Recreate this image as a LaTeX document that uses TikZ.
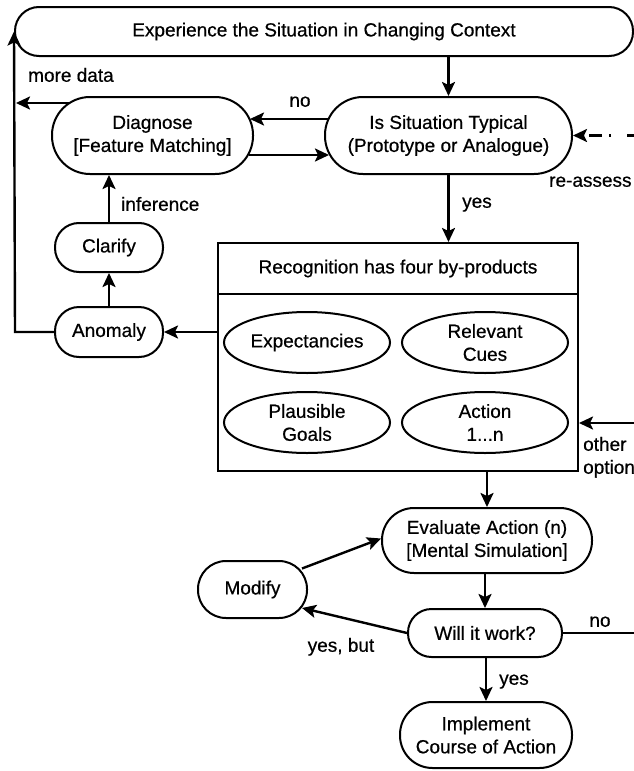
\documentclass[tikz,border=0pt]{standalone}
\usepackage{fontspec}
\setmainfont{Liberation Sans}
\newfontfamily\labfont{Liberation Sans}[FakeBold=0.6]
\usetikzlibrary{arrows.meta,calc,shapes.geometric}
\begin{document}
\begin{tikzpicture}[x=1pt,y=-1pt,
  every node/.style={font=\labfont\fontsize{19}{23}\selectfont},
  pill/.style={draw, line width=2pt, rounded corners=#1, inner sep=0pt, align=center},
  oval/.style={draw, ellipse, line width=2pt, inner sep=0pt, align=center, minimum width=166pt, minimum height=61pt},
  arr/.style={line width=2.4pt, -{Stealth[length=14pt,width=13pt,inset=3pt]}},
  ln/.style={line width=2.4pt},
  lbl/.style={inner sep=0pt, text height=13.5pt, text depth=4pt}]
\useasboundingbox (0,0) rectangle (634,771);

% nodes
\node[pill=24pt, minimum width=618pt, minimum height=49pt] (top) at (324,31.5) {Experience the Situation in Changing Context};
\node[pill=38pt, minimum width=201pt, minimum height=77pt] (diag) at (152.5,135.5) {Diagnose\\{}[Feature Matching]};
\node[pill=38pt, minimum width=247pt, minimum height=77pt] (typ) at (448.5,135.5) {Is Situation Typical\\(Prototype or Analogue)};
\node[pill=24pt, minimum width=108pt, minimum height=49pt] (clar) at (109,247.5) {Clarify};
\node[pill=24pt, minimum width=108pt, minimum height=50pt] (anom) at (109,332) {Anomaly};
\node[draw, line width=2pt, minimum width=360pt, minimum height=228pt, inner sep=0pt] (rec) at (398,357) {};
\node (hdr) at (398,268.5) {Recognition has four by-products};
\draw[line width=2pt] (rec.west |- 0,294) -- (rec.east |- 0,294);
\node[oval] (exp) at (307,342.5) {Expectancies};
\node[oval] (cues) at (485,342.5) {Relevant\\Cues};
\node[oval] (goals) at (307,422.5) {Plausible\\Goals};
\node[oval] (act) at (485,422.5) {Action\\1...n};
\node[pill=32pt, minimum width=210pt, minimum height=65pt] (eval) at (487,540.5) {Evaluate Action (n)\\{}[Mental Simulation]};
\node[pill=28pt, minimum width=109pt, minimum height=57pt] (mod) at (252.5,589.5) {Modify};
\node[pill=23.5pt, minimum width=154pt, minimum height=48pt] (will) at (485,633) {Will it work?};
\node[pill=32.5pt, minimum width=172pt, minimum height=66pt] (impl) at (486,735) {Implement\\Course of Action};

% free ends
\coordinate (L) at (15,0);
\coordinate (R1) at (640,0);
\coordinate (R2) at (634,423);

% connectors
\coordinate (md) at ($(diag.west)+(18,-32.5)$);
\draw[arr] (md) -- ([xshift=1pt]L |- md);
\draw[arr] (anom.west) -- (L |- anom.west) -- (top.west);
\draw[arr] (clar.north) -- (clar.north |- diag.south);
\draw[arr] (anom.north) -- (clar.south);
\draw[arr] (top.south -| typ.north) -- (typ.north);
\draw[arr] ($(typ.west)+(4,-16.5)$) -- ($(diag.east)+(-4,-16.5)$);
\draw[arr] ($(diag.east)+(-5,19.5)$) -- ($(typ.west)+(5,19.5)$);
\draw[arr, dash pattern=on 13pt off 16pt on 2pt off 7pt] (R1 |- typ.east) -- (typ.east);
\draw[arr] (typ.south) -- (typ.south |- rec.north);
\draw[arr] (rec.west |- anom.east) -- (anom.east);
\draw[arr] (R2) -- (rec.east |- R2);
\draw[arr] (eval.north |- rec.south) -- (eval.north);
\draw[arr] (will.north |- eval.south) -- (will.north);
\draw[arr] (impl.north |- will.south) -- (impl.north);
\draw[arr] ($(mod.east)+(-6,-21)$) -- ($(eval.west)+(0,-2)$);
\draw[arr] (will.west) -- ($(mod.east)+(-6,18.5)$);
\draw[ln] (will.east) -- (R2 |- will.east);

% labels
\node[lbl, anchor=west] (t1) at (28,77) {more data};
\node[lbl] (t2) at (300,102) {no};
\node[lbl, anchor=west] (t3) at (549,182) {re-assess};
\node[lbl, anchor=west] (t4) at (121,206) {inference};
\node[lbl, anchor=west] (t5) at (462,203) {yes};
\node[lbl, anchor=west] (t6) at (583,446) {other};
\node[lbl, anchor=west] (t7) at (583,469) {option};
\node[lbl] (t8) at (600,622) {no};
\node[lbl] (t9) at (341,647) {yes, but};
\node[lbl, anchor=west] (t10) at (499,680) {yes};
\end{tikzpicture}
\end{document}
